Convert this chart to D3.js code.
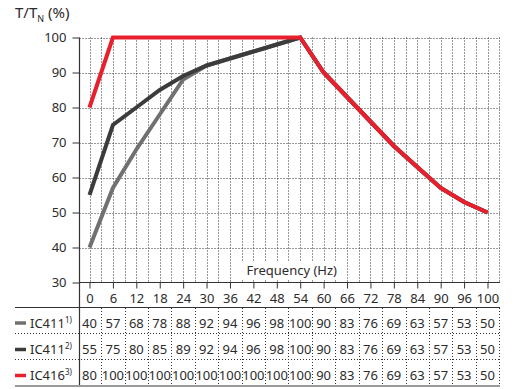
<!DOCTYPE html>
<html><head><meta charset="utf-8">
<script src="https://cdn.jsdelivr.net/npm/d3@7"></script>
<style>body{margin:0;background:#fff}svg{display:block}text{font-family:"Noto Sans",sans-serif;fill:#2b2b2b}</style>
</head><body><svg id="c" width="518" height="389"></svg>
<script>
const categories = ["0","6","12","18","24","30","36","42","48","54","60","66","72","78","84","90","96","100"];
const ic411a = [40,57,68,78,88,92,94,96,98,100,90,83,76,69,63,57,53,50];
const ic411b = [55,75,80,85,89,92,94,96,98,100,90,83,76,69,63,57,53,50];
const ic416 = [80,100,100,100,100,100,100,100,100,100,90,83,76,69,63,57,53,50];
const yTicks = [30,40,50,60,70,80,90,100];
const seriesNames = ["IC411","IC411","IC416"];
const seriesSup = ["1)","2)","3)"];
const seriesColors = ["#707070","#3c3c3c","#e8202e"];
const seriesData = [ic411a, ic411b, ic416];

(function(){
const svg = d3.select("#c");
const pL = 79.5, pR = 500, pT = 37.5, pB = 282.5;
const x = d3.scalePoint().domain(categories).range([89.5, 487.5]);
const step = x.step();
const y = d3.scaleLinear().domain([30,100]).range([pB, pT]);

// grid
const g = svg.append("g");
yTicks.filter(v=>v>30).forEach(v=>{
  g.append("line").attr("x1",pL).attr("x2",pR).attr("y1",Math.round(y(v))+0.5).attr("y2",Math.round(y(v))+0.5)
   .attr("stroke","#333").attr("stroke-width",1).attr("stroke-dasharray","1,2");
});
categories.forEach(c=>{
  [x(c), x(c)+step/2].forEach(px=>{
    const xx = Math.round(px)+0.5;
    g.append("line").attr("x1",xx).attr("x2",xx).attr("y1",pT).attr("y2",pB)
     .attr("stroke","#333").attr("stroke-width",1).attr("stroke-dasharray","1,2");
  });
});

// axis title
const ft = svg.append("g");
ft.append("rect").attr("x",238).attr("y",262).attr("width",100).attr("height",17).attr("fill","#fff");
ft.append("text").attr("x",337).attr("y",275).attr("text-anchor","end").attr("font-size",13).text("Frequency (Hz)");

// lines
const line = d3.line().x((d,i)=>x(categories[i])).y(d=>y(d));
[0,1,2].forEach(k=>{
  svg.append("path").datum(seriesData[k]).attr("d",line).attr("fill","none")
    .attr("stroke",seriesColors[k]).attr("stroke-width",4).attr("stroke-linejoin","miter");
});

// y axis
const ya = svg.append("g").attr("transform",`translate(${pL},0)`)
  .call(d3.axisLeft(y).tickValues(yTicks).tickSize(7).tickPadding(6));
ya.select(".domain").remove();
ya.selectAll("line").attr("stroke","#333");
ya.selectAll("text").attr("font-size",13).attr("fill","#2b2b2b").style("font-family","Noto Sans");
svg.append("line").attr("x1",pL).attr("x2",pL).attr("y1",pT).attr("y2",386).attr("stroke","#333").attr("stroke-width",1.2);

// x axis
const xa = svg.append("g").attr("transform",`translate(0,${pB})`)
  .call(d3.axisBottom(x).tickSize(6).tickPadding(5));
xa.select(".domain").attr("d",`M${pL},0H${pR}`).attr("stroke","#333");
xa.selectAll("line").attr("stroke","#333");
xa.selectAll("text").attr("font-size",13).attr("fill","#2b2b2b").style("font-family","Noto Sans");

// title
const tt = svg.append("text").attr("x",15).attr("y",18).attr("font-size",15);
tt.append("tspan").text("T/T");
tt.append("tspan").attr("font-size",9).attr("dy",4).text("N");
tt.append("tspan").attr("dy",-4).text(" (%)");

// table
svg.append("line").attr("x1",15).attr("x2",pR).attr("y1",307.5).attr("y2",307.5).attr("stroke","#333");
svg.append("line").attr("x1",15).attr("x2",pR).attr("y1",386).attr("y2",386).attr("stroke","#999").attr("stroke-width",2);
[333.5,359.5].forEach(yy=>{
  svg.append("line").attr("x1",15).attr("x2",pR).attr("y1",yy).attr("y2",yy)
    .attr("stroke","#333").attr("stroke-dasharray","1,2");
});
categories.forEach(c=>{
  const xx = Math.round(x(c)+step/2)+0.5;
  svg.append("line").attr("x1",xx).attr("x2",xx).attr("y1",308).attr("y2",385)
    .attr("stroke","#333").attr("stroke-dasharray","1,2");
});
const rowY = [327.5, 354, 380];
seriesData.forEach((vals,k)=>{
  const ry = rowY[k];
  svg.append("line").attr("x1",15).attr("x2",26).attr("y1",ry-4.5).attr("y2",ry-4.5)
    .attr("stroke",seriesColors[k]).attr("stroke-width",3.5);
  const lt = svg.append("text").attr("x",30).attr("y",ry).attr("font-size",13);
  lt.append("tspan").text(seriesNames[k]);
  lt.append("tspan").attr("font-size",8).attr("dy",-5).text(seriesSup[k]);
  vals.forEach((v,i)=>{
    svg.append("text").attr("x",x(categories[i])).attr("y",ry).attr("text-anchor","middle")
      .attr("font-size",13).text(v);
  });
});
})();
</script></body></html>
